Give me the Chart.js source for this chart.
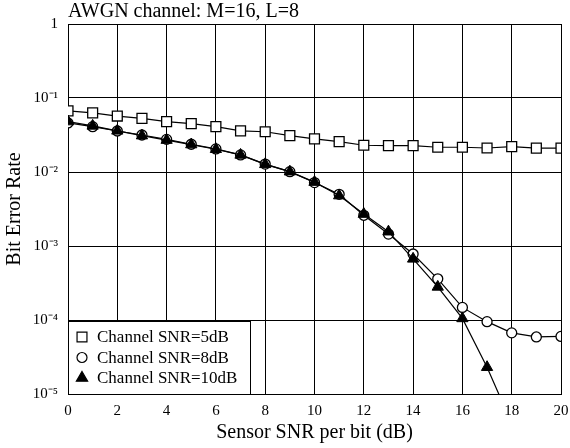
<!DOCTYPE html>
<html>
<head>
<meta charset="utf-8">
<script src="https://cdn.jsdelivr.net/npm/chart.js@4"></script>
<style>
  html, body { margin: 0; padding: 0; background: #fff; }
  #wrap { width: 570px; height: 448px; }
</style>
</head>
<body>
<div id="wrap"><canvas id="myChart" width="570" height="448"></canvas></div>
<script>
// data
let snr = [0, 1, 2, 3, 4, 5, 6, 7, 8, 9, 10, 11, 12, 13, 14, 15, 16, 17, 18, 19, 20];
let ber5dB = [0.067, 0.063, 0.057, 0.053, 0.048, 0.045, 0.041, 0.036, 0.035, 0.031, 0.028,
    0.0257, 0.023, 0.0227, 0.0227, 0.0216, 0.0216, 0.0211, 0.022, 0.021, 0.021];
let ber8dB = [0.046, 0.041, 0.0358, 0.0316, 0.0276, 0.0237, 0.0205, 0.017, 0.0128, 0.0101, 0.0072,
    0.005, 0.0026, 0.00145, 0.00078, 0.00036, 0.000148, 0.000095, 0.000067, 0.000059, 0.00006];
let ber10dB = [0.048, 0.042, 0.036, 0.031, 0.027, 0.0235, 0.0203, 0.017, 0.0127, 0.0101, 0.0073,
    0.0048, 0.0027, 0.00156, 0.00067, 0.00028, 0.000105, 0.000023, 0.000004];
let seriesNames = ['Channel SNR=5dB', 'Channel SNR=8dB', 'Channel SNR=10dB'];
let xTicks = [0, 2, 4, 6, 8, 10, 12, 14, 16, 18, 20];

const sup = {'-': '\u207B', '0': '\u2070', '1': '\u00B9', '2': '\u00B2', '3': '\u00B3',
    '4': '\u2074', '5': '\u2075', '6': '\u2076', '7': '\u2077', '8': '\u2078', '9': '\u2079'};

function toPoints(ys){
    return ys.map((y, i) => ({x: snr[i], y: y}));
}

Chart.defaults.font.family = '"Liberation Serif", "Times New Roman", serif';
Chart.defaults.color = '#000';

// legend drawn inside the plot, bottom-left
const legendBox = {
    id: 'legendBox',
    afterDatasetsDraw(chart){
        const ctx = chart.ctx;
        const ca = chart.chartArea;
        const w = 182, h = 73;
        const x0 = ca.left, y0 = ca.bottom - h;
        ctx.save();
        ctx.fillStyle = '#fff';
        ctx.fillRect(x0, y0, w, h);
        ctx.strokeStyle = '#000';
        ctx.lineWidth = 1;
        ctx.strokeRect(Math.round(x0) + 0.5, Math.round(y0) + 0.5, w, h);
        ctx.font = '17px "Liberation Serif", serif';
        ctx.textBaseline = 'middle';
        chart.data.datasets.forEach((ds, i) => {
            const cy = y0 + 16 + i * 20.5;
            ctx.fillStyle = ds.pointBackgroundColor;
            ctx.strokeStyle = '#000';
            ctx.lineWidth = 1.2;
            Chart.helpers.drawPoint(ctx, {pointStyle: ds.pointStyle, radius: ds.pointRadius, borderWidth: 1.2, rotation: 0}, x0 + 14, cy);
            ctx.fillStyle = '#000';
            ctx.fillText(ds.label, x0 + 29, cy + 1);
        });
        ctx.restore();
    }
};

const ctx = document.getElementById('myChart').getContext('2d');
const myChart = new Chart(ctx, {
    type: 'line',
    data: {
        datasets: [
            {
                label: seriesNames[0],
                data: toPoints(ber5dB),
                borderColor: '#000',
                borderWidth: 1.2,
                pointStyle: 'rect',
                pointRadius: 7,
                pointBorderWidth: 1.3,
                pointBackgroundColor: '#fff',
                pointBorderColor: '#000',
                order: 2
            },
            {
                label: seriesNames[1],
                data: toPoints(ber8dB),
                borderColor: '#000',
                borderWidth: 1.2,
                pointStyle: 'circle',
                pointRadius: 5,
                pointBorderWidth: 1.3,
                pointBackgroundColor: '#fff',
                pointBorderColor: '#000',
                order: 1
            },
            {
                label: seriesNames[2],
                data: toPoints(ber10dB),
                borderColor: '#000',
                borderWidth: 1.2,
                pointStyle: 'triangle',
                pointRadius: 6.5,
                pointBorderWidth: 1,
                pointBackgroundColor: '#000',
                pointBorderColor: '#000',
                order: 0
            }
        ]
    },
    options: {
        responsive: false,
        animation: false,
        layout: { padding: { left: 0, right: 0, top: 0, bottom: 0 } },
        plugins: {
            legend: { display: false },
            tooltip: { enabled: false },
            title: {
                display: true,
                text: 'AWGN channel: M=16, L=8',
                align: 'start',
                fullSize: false,
                color: '#000',
                font: { size: 20, weight: 'normal', lineHeight: 1.2 },
                padding: { top: 0, bottom: 0 }
            }
        },
        scales: {
            x: {
                type: 'linear',
                min: 0,
                max: 20,
                afterBuildTicks: (scale) => { scale.ticks = xTicks.map(v => ({value: v})); },
                afterFit: (scale) => {
                    scale.height = 54;
                    scale.paddingLeft = 0;
                    scale.paddingRight = 9;
                },
                border: { display: true, color: '#000', width: 1 },
                grid: { color: '#000', lineWidth: 1, drawTicks: false },
                ticks: { padding: 8, font: { size: 15 }, color: '#000', maxRotation: 0 },
                title: {
                    display: true,
                    text: 'Sensor SNR per bit (dB)',
                    color: '#000',
                    font: { size: 20, lineHeight: 1.2 },
                    padding: { top: 0, bottom: 3 }
                }
            },
            y: {
                type: 'logarithmic',
                min: 1e-5,
                max: 1,
                afterBuildTicks: (scale) => {
                    scale.ticks = scale.ticks.filter(t => {
                        const e = Math.log10(t.value);
                        return Math.abs(e - Math.round(e)) < 1e-6;
                    });
                },
                afterFit: (scale) => { scale.width = 68; },
                border: { display: true, color: '#000', width: 1 },
                grid: { color: '#000', lineWidth: 1, drawTicks: false },
                ticks: {
                    padding: 10,
                    font: { size: 15 },
                    color: '#000',
                    autoSkip: false,
                    callback: (value) => {
                        const e = Math.round(Math.log10(value));
                        if (e === 0) return '1';
                        return '10' + String(e).split('').map(c => sup[c]).join('');
                    }
                },
                title: {
                    display: true,
                    text: 'Bit Error Rate',
                    color: '#000',
                    font: { size: 20, lineHeight: 1.2 },
                    padding: { top: 3, bottom: 0 }
                }
            }
        }
    },
    plugins: [legendBox]
});
</script>
</body>
</html>
